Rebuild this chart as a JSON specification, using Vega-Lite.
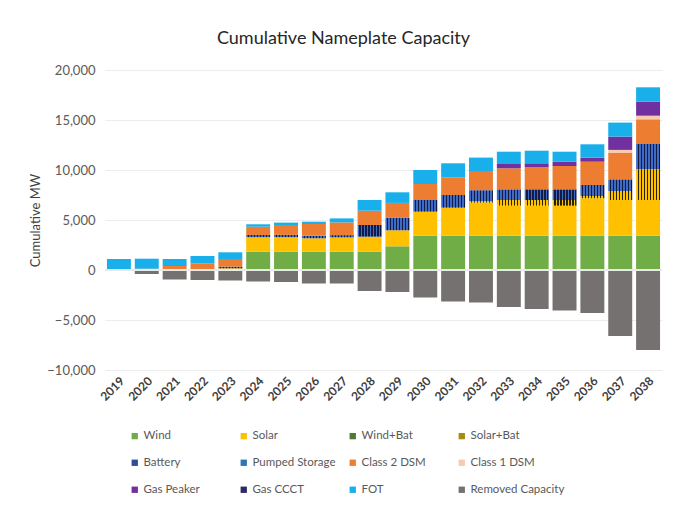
{
  "$schema": "https://vega.github.io/schema/vega-lite/v6.json",
  "width": 557,
  "height": 300,
  "autosize": {"type": "none"},
  "padding": {"left": 105, "top": 70, "right": 11, "bottom": 140},
  "background": "white",
  "title": {"text": "Cumulative Nameplate Capacity", "font": "Lato", "fontSize": 18, "fontWeight": "normal", "color": "#262626", "anchor": "middle", "frame": "group", "dx": -40, "offset": 16},
  "config": {"view": {"stroke": null}, "font": "Lato"},
  "data": {"values": [
    {"year": "2019", "type": "FOT", "mw": 1100, "k": 11},
    {"year": "2020", "type": "Class 2 DSM", "mw": 130, "k": 7},
    {"year": "2020", "type": "FOT", "mw": 1000, "k": 11},
    {"year": "2020", "type": "Removed Capacity", "mw": -400, "k": 12},
    {"year": "2021", "type": "Class 2 DSM", "mw": 400, "k": 7},
    {"year": "2021", "type": "FOT", "mw": 700, "k": 11},
    {"year": "2021", "type": "Removed Capacity", "mw": -950, "k": 12},
    {"year": "2022", "type": "Solar", "mw": 70, "k": 2},
    {"year": "2022", "type": "Class 2 DSM", "mw": 600, "k": 7},
    {"year": "2022", "type": "FOT", "mw": 730, "k": 11},
    {"year": "2022", "type": "Removed Capacity", "mw": -1000, "k": 12},
    {"year": "2023", "type": "Solar", "mw": 170, "k": 2},
    {"year": "2023", "type": "Battery", "mw": 170, "k": 5},
    {"year": "2023", "type": "Class 2 DSM", "mw": 670, "k": 7},
    {"year": "2023", "type": "FOT", "mw": 760, "k": 11},
    {"year": "2023", "type": "Removed Capacity", "mw": -1050, "k": 12},
    {"year": "2024", "type": "Wind", "mw": 1830, "k": 1},
    {"year": "2024", "type": "Solar", "mw": 1450, "k": 2},
    {"year": "2024", "type": "Battery", "mw": 220, "k": 5},
    {"year": "2024", "type": "Class 2 DSM", "mw": 830, "k": 7},
    {"year": "2024", "type": "FOT", "mw": 240, "k": 11},
    {"year": "2024", "type": "Removed Capacity", "mw": -1150, "k": 12},
    {"year": "2025", "type": "Wind", "mw": 1830, "k": 1},
    {"year": "2025", "type": "Solar", "mw": 1450, "k": 2},
    {"year": "2025", "type": "Battery", "mw": 230, "k": 5},
    {"year": "2025", "type": "Class 2 DSM", "mw": 900, "k": 7},
    {"year": "2025", "type": "FOT", "mw": 330, "k": 11},
    {"year": "2025", "type": "Removed Capacity", "mw": -1200, "k": 12},
    {"year": "2026", "type": "Wind", "mw": 1830, "k": 1},
    {"year": "2026", "type": "Solar", "mw": 1340, "k": 2},
    {"year": "2026", "type": "Battery", "mw": 260, "k": 5},
    {"year": "2026", "type": "Class 2 DSM", "mw": 1170, "k": 7},
    {"year": "2026", "type": "FOT", "mw": 230, "k": 11},
    {"year": "2026", "type": "Removed Capacity", "mw": -1350, "k": 12},
    {"year": "2027", "type": "Wind", "mw": 1830, "k": 1},
    {"year": "2027", "type": "Solar", "mw": 1430, "k": 2},
    {"year": "2027", "type": "Battery", "mw": 230, "k": 5},
    {"year": "2027", "type": "Class 2 DSM", "mw": 1270, "k": 7},
    {"year": "2027", "type": "FOT", "mw": 400, "k": 11},
    {"year": "2027", "type": "Removed Capacity", "mw": -1350, "k": 12},
    {"year": "2028", "type": "Wind", "mw": 1830, "k": 1},
    {"year": "2028", "type": "Solar", "mw": 1500, "k": 2},
    {"year": "2028", "type": "Battery", "mw": 1170, "k": 5},
    {"year": "2028", "type": "Class 2 DSM", "mw": 1430, "k": 7},
    {"year": "2028", "type": "FOT", "mw": 1070, "k": 11},
    {"year": "2028", "type": "Removed Capacity", "mw": -2100, "k": 12},
    {"year": "2029", "type": "Wind", "mw": 2370, "k": 1},
    {"year": "2029", "type": "Solar", "mw": 1600, "k": 2},
    {"year": "2029", "type": "Battery", "mw": 1240, "k": 5},
    {"year": "2029", "type": "Class 2 DSM", "mw": 1500, "k": 7},
    {"year": "2029", "type": "FOT", "mw": 1060, "k": 11},
    {"year": "2029", "type": "Removed Capacity", "mw": -2200, "k": 12},
    {"year": "2030", "type": "Wind", "mw": 3430, "k": 1},
    {"year": "2030", "type": "Solar", "mw": 2400, "k": 2},
    {"year": "2030", "type": "Battery", "mw": 1170, "k": 5},
    {"year": "2030", "type": "Class 2 DSM", "mw": 1600, "k": 7},
    {"year": "2030", "type": "FOT", "mw": 1400, "k": 11},
    {"year": "2030", "type": "Removed Capacity", "mw": -2750, "k": 12},
    {"year": "2031", "type": "Wind", "mw": 3430, "k": 1},
    {"year": "2031", "type": "Solar", "mw": 2800, "k": 2},
    {"year": "2031", "type": "Battery", "mw": 1270, "k": 5},
    {"year": "2031", "type": "Class 2 DSM", "mw": 1770, "k": 7},
    {"year": "2031", "type": "FOT", "mw": 1400, "k": 11},
    {"year": "2031", "type": "Removed Capacity", "mw": -3150, "k": 12},
    {"year": "2032", "type": "Wind", "mw": 3430, "k": 1},
    {"year": "2032", "type": "Solar", "mw": 3300, "k": 2},
    {"year": "2032", "type": "Solar+Bat", "mw": 150, "k": 4},
    {"year": "2032", "type": "Battery", "mw": 1100, "k": 5},
    {"year": "2032", "type": "Class 2 DSM", "mw": 1830, "k": 7},
    {"year": "2032", "type": "FOT", "mw": 1430, "k": 11},
    {"year": "2032", "type": "Removed Capacity", "mw": -3250, "k": 12},
    {"year": "2033", "type": "Wind", "mw": 3430, "k": 1},
    {"year": "2033", "type": "Solar", "mw": 3000, "k": 2},
    {"year": "2033", "type": "Solar+Bat", "mw": 570, "k": 4},
    {"year": "2033", "type": "Battery", "mw": 1070, "k": 5},
    {"year": "2033", "type": "Class 2 DSM", "mw": 2100, "k": 7},
    {"year": "2033", "type": "Gas Peaker", "mw": 430, "k": 9},
    {"year": "2033", "type": "FOT", "mw": 1230, "k": 11},
    {"year": "2033", "type": "Removed Capacity", "mw": -3700, "k": 12},
    {"year": "2034", "type": "Wind", "mw": 3430, "k": 1},
    {"year": "2034", "type": "Solar", "mw": 3000, "k": 2},
    {"year": "2034", "type": "Solar+Bat", "mw": 570, "k": 4},
    {"year": "2034", "type": "Battery", "mw": 1070, "k": 5},
    {"year": "2034", "type": "Class 2 DSM", "mw": 2200, "k": 7},
    {"year": "2034", "type": "Gas Peaker", "mw": 400, "k": 9},
    {"year": "2034", "type": "FOT", "mw": 1260, "k": 11},
    {"year": "2034", "type": "Removed Capacity", "mw": -3900, "k": 12},
    {"year": "2035", "type": "Wind", "mw": 3430, "k": 1},
    {"year": "2035", "type": "Solar", "mw": 3000, "k": 2},
    {"year": "2035", "type": "Solar+Bat", "mw": 570, "k": 4},
    {"year": "2035", "type": "Battery", "mw": 1070, "k": 5},
    {"year": "2035", "type": "Class 2 DSM", "mw": 2330, "k": 7},
    {"year": "2035", "type": "Gas Peaker", "mw": 430, "k": 9},
    {"year": "2035", "type": "FOT", "mw": 1000, "k": 11},
    {"year": "2035", "type": "Removed Capacity", "mw": -4050, "k": 12},
    {"year": "2036", "type": "Wind", "mw": 3430, "k": 1},
    {"year": "2036", "type": "Solar", "mw": 3740, "k": 2},
    {"year": "2036", "type": "Solar+Bat", "mw": 230, "k": 4},
    {"year": "2036", "type": "Battery", "mw": 1100, "k": 5},
    {"year": "2036", "type": "Class 2 DSM", "mw": 2330, "k": 7},
    {"year": "2036", "type": "Gas Peaker", "mw": 400, "k": 9},
    {"year": "2036", "type": "FOT", "mw": 1340, "k": 11},
    {"year": "2036", "type": "Removed Capacity", "mw": -4300, "k": 12},
    {"year": "2037", "type": "Wind", "mw": 3430, "k": 1},
    {"year": "2037", "type": "Solar", "mw": 3570, "k": 2},
    {"year": "2037", "type": "Solar+Bat", "mw": 900, "k": 4},
    {"year": "2037", "type": "Battery", "mw": 1170, "k": 5},
    {"year": "2037", "type": "Class 2 DSM", "mw": 2670, "k": 7},
    {"year": "2037", "type": "Class 1 DSM", "mw": 270, "k": 8},
    {"year": "2037", "type": "Gas Peaker", "mw": 1330, "k": 9},
    {"year": "2037", "type": "FOT", "mw": 1400, "k": 11},
    {"year": "2037", "type": "Removed Capacity", "mw": -6600, "k": 12},
    {"year": "2038", "type": "Wind", "mw": 3430, "k": 1},
    {"year": "2038", "type": "Solar", "mw": 3570, "k": 2},
    {"year": "2038", "type": "Solar+Bat", "mw": 3070, "k": 4},
    {"year": "2038", "type": "Battery", "mw": 2530, "k": 5},
    {"year": "2038", "type": "Class 2 DSM", "mw": 2470, "k": 7},
    {"year": "2038", "type": "Class 1 DSM", "mw": 360, "k": 8},
    {"year": "2038", "type": "Gas Peaker", "mw": 1400, "k": 9},
    {"year": "2038", "type": "FOT", "mw": 1440, "k": 11},
    {"year": "2038", "type": "Removed Capacity", "mw": -8000, "k": 12}
  ]},
  "layer": [
    {
      "mark": {"type": "bar"},
      "encoding": {
        "x": {"field": "year", "type": "ordinal", "scale": {"paddingInner": 0.14, "paddingOuter": 0.07},
          "axis": {"title": null, "labelAngle": -45, "labelFontSize": 12, "labelColor": "#404040", "labelFontWeight": "bold", "ticks": false, "domain": false, "labelPadding": 5}},
        "y": {"field": "mw", "type": "quantitative", "stack": "zero", "scale": {"domain": [-10000, 20000], "nice": false},
          "axis": {"title": "Cumulative MW", "values": [-10000, -7500, -5000, -2500, 0, 2500, 5000, 7500, 10000, 12500, 15000, 17500, 20000], "format": ",.0f", "labelFontSize": 13, "labelColor": "#595959", "titleFontSize": 13, "titleFontWeight": "normal", "titleColor": "#404040", "ticks": false, "domain": false, "labelPadding": 10, "gridColor": "#ececec", "titlePadding": 4}},
        "order": {"field": "k", "type": "quantitative"},
        "color": {
          "condition": [
            {"test": "datum.type === 'Battery'", "value": {"gradient": "linear", "x1": 0, "y1": 0, "x2": 1, "y2": 0, "stops": [
              {"offset": 0, "color": "#3F6BC4"}, {"offset": 0.075, "color": "#3F6BC4"}, {"offset": 0.075, "color": "#101C45"}, {"offset": 0.125, "color": "#101C45"},
              {"offset": 0.125, "color": "#3F6BC4"}, {"offset": 0.2, "color": "#3F6BC4"}, {"offset": 0.2, "color": "#101C45"}, {"offset": 0.25, "color": "#101C45"},
              {"offset": 0.25, "color": "#3F6BC4"}, {"offset": 0.325, "color": "#3F6BC4"}, {"offset": 0.325, "color": "#101C45"}, {"offset": 0.375, "color": "#101C45"},
              {"offset": 0.375, "color": "#3F6BC4"}, {"offset": 0.45, "color": "#3F6BC4"}, {"offset": 0.45, "color": "#101C45"}, {"offset": 0.5, "color": "#101C45"},
              {"offset": 0.5, "color": "#3F6BC4"}, {"offset": 0.575, "color": "#3F6BC4"}, {"offset": 0.575, "color": "#101C45"}, {"offset": 0.625, "color": "#101C45"},
              {"offset": 0.625, "color": "#3F6BC4"}, {"offset": 0.7, "color": "#3F6BC4"}, {"offset": 0.7, "color": "#101C45"}, {"offset": 0.75, "color": "#101C45"},
              {"offset": 0.75, "color": "#3F6BC4"}, {"offset": 0.825, "color": "#3F6BC4"}, {"offset": 0.825, "color": "#101C45"}, {"offset": 0.875, "color": "#101C45"},
              {"offset": 0.875, "color": "#3F6BC4"}, {"offset": 0.95, "color": "#3F6BC4"}, {"offset": 0.95, "color": "#101C45"}, {"offset": 1, "color": "#101C45"}]}},
            {"test": "datum.type === 'Solar+Bat'", "value": {"gradient": "linear", "x1": 0, "y1": 0, "x2": 1, "y2": 0, "stops": [
              {"offset": 0, "color": "#FFC000"}, {"offset": 0.08, "color": "#FFC000"}, {"offset": 0.08, "color": "#2A2300"}, {"offset": 0.125, "color": "#2A2300"},
              {"offset": 0.125, "color": "#FFC000"}, {"offset": 0.205, "color": "#FFC000"}, {"offset": 0.205, "color": "#2A2300"}, {"offset": 0.25, "color": "#2A2300"},
              {"offset": 0.25, "color": "#FFC000"}, {"offset": 0.33, "color": "#FFC000"}, {"offset": 0.33, "color": "#2A2300"}, {"offset": 0.375, "color": "#2A2300"},
              {"offset": 0.375, "color": "#FFC000"}, {"offset": 0.455, "color": "#FFC000"}, {"offset": 0.455, "color": "#2A2300"}, {"offset": 0.5, "color": "#2A2300"},
              {"offset": 0.5, "color": "#FFC000"}, {"offset": 0.58, "color": "#FFC000"}, {"offset": 0.58, "color": "#2A2300"}, {"offset": 0.625, "color": "#2A2300"},
              {"offset": 0.625, "color": "#FFC000"}, {"offset": 0.705, "color": "#FFC000"}, {"offset": 0.705, "color": "#2A2300"}, {"offset": 0.75, "color": "#2A2300"},
              {"offset": 0.75, "color": "#FFC000"}, {"offset": 0.83, "color": "#FFC000"}, {"offset": 0.83, "color": "#2A2300"}, {"offset": 0.875, "color": "#2A2300"},
              {"offset": 0.875, "color": "#FFC000"}, {"offset": 0.955, "color": "#FFC000"}, {"offset": 0.955, "color": "#2A2300"}, {"offset": 1, "color": "#2A2300"}]}}
          ],
          "field": "type", "type": "nominal",
          "scale": {
            "domain": ["Wind", "Solar", "Wind+Bat", "Solar+Bat", "Battery", "Pumped Storage", "Class 2 DSM", "Class 1 DSM", "Gas Peaker", "Gas CCCT", "FOT", "Removed Capacity"],
            "range": ["#70AD47", "#FFC000", "#4E7A32", "#A88A10", "#2C4C9C", "#2E75B6", "#ED7D31", "#F8CBAD", "#7030A0", "#2F2A66", "#19AFEA", "#767171"]
          },
          "legend": {"title": null, "orient": "none", "legendX": 24, "legendY": 360, "columns": 4, "direction": "horizontal", "symbolType": "square", "symbolSize": 40, "symbolStrokeWidth": 0, "labelFontSize": 11.5, "labelColor": "#595959", "labelFont": "Lato", "labelOffset": 3, "gridAlign": "all", "columnPadding": 0, "rowPadding": 14}
        }
      }
    },
    {
      "data": {"values": [{}]},
      "mark": {"type": "rule", "color": "#e9e9e9", "strokeWidth": 2},
      "encoding": {"y": {"datum": 0}}
    }
  ]
}
